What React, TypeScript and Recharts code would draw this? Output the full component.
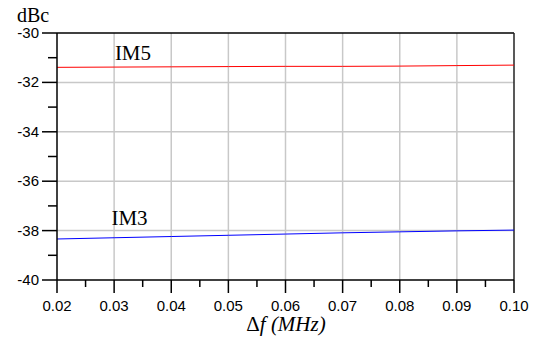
import React from 'react';
import {
  LineChart,
  Line,
  XAxis,
  YAxis,
  ReferenceLine,
  ReferenceDot
} from 'recharts';

const freqs = [0.02, 0.03, 0.04, 0.05, 0.06, 0.07, 0.08, 0.09, 0.1];
const im5 = [-31.39, -31.38, -31.37, -31.36, -31.35, -31.35, -31.34, -31.32, -31.3];
const im3 = [-38.34, -38.29, -38.24, -38.19, -38.14, -38.09, -38.05, -38.01, -37.98];

const xMajor = [0.02, 0.03, 0.04, 0.05, 0.06, 0.07, 0.08, 0.09, 0.1];
const xMinor = [0.025, 0.035, 0.045, 0.055, 0.065, 0.075, 0.085, 0.095];
const yMajor = [-40, -38, -36, -34, -32, -30];
const yMinor = [-39, -37, -35, -33, -31];

const xGrid = [0.03, 0.04, 0.05, 0.06, 0.07, 0.08, 0.09];
const yGrid = [-38, -36, -34, -32];

const chartData = freqs.map((f, i) => ({ f, im5: im5[i], im3: im3[i] }));

const serif = '"Liberation Serif", "Times New Roman", serif';
const sans = '"Liberation Sans", Arial, sans-serif';

const XTick = ({ x, y, payload }: any) => {
  const major = xMajor.includes(payload.value);
  return (
    <g>
      <line x1={x} y1={y} x2={x} y2={y + (major ? 13 : 7)} stroke="#000" strokeWidth={1.5} />
      {major && (
        <text x={x} y={y + 31} textAnchor="middle" fontFamily={sans} fontSize={15} fill="#000">
          {payload.value.toFixed(2)}
        </text>
      )}
    </g>
  );
};

const YTick = ({ x, y, payload }: any) => {
  const major = yMajor.includes(payload.value);
  return (
    <g>
      <line x1={x - (major ? 15 : 9)} y1={y} x2={x} y2={y} stroke="#000" strokeWidth={1.5} />
      {major && (
        <text x={x - 18} y={y + 5} textAnchor="end" fontFamily={sans} fontSize={15} fill="#000">
          {payload.value}
        </text>
      )}
    </g>
  );
};

const IMLabel = (text: string) => ({ viewBox }: any) => (
  <text
    x={viewBox.x + viewBox.width / 2}
    y={viewBox.y + viewBox.height / 2 + 7}
    textAnchor="middle"
    fontFamily={serif}
    fontSize={21}
    fill="#000"
  >
    {text}
  </text>
);

export default function App() {
  return (
    <div style={{ position: 'absolute', left: 0, top: 0, width: 537, height: 337, background: '#fff' }}>
      <LineChart
        width={537}
        height={337}
        data={chartData}
        margin={{ top: 33, right: 23, bottom: 0, left: 0 }}
      >
        {xGrid.map(v => (
          <ReferenceLine key={'x' + v} x={v} stroke="#c8c8c8" strokeWidth={1.5} />
        ))}
        {yGrid.map(v => (
          <ReferenceLine key={'y' + v} y={v} stroke="#c8c8c8" strokeWidth={1.5} />
        ))}
        <ReferenceLine y={-30} stroke="#000" strokeWidth={1.5} />
        <ReferenceLine x={0.1} stroke="#222" strokeWidth={1.5} />
        <XAxis
          dataKey="f"
          type="number"
          domain={[0.02, 0.1]}
          ticks={[...xMajor, ...xMinor].sort((a, b) => a - b)}
          interval={0}
          tickSize={0}
          tickMargin={0}
          tick={<XTick />}
          tickLine={false}
          axisLine={{ stroke: '#000', strokeWidth: 1.5 }}
          height={57}
          allowDataOverflow
        />
        <YAxis
          type="number"
          domain={[-40, -30]}
          ticks={[...yMajor, ...yMinor].sort((a, b) => a - b)}
          interval={0}
          tickSize={0}
          tickMargin={0}
          tick={<YTick />}
          tickLine={false}
          axisLine={{ stroke: '#000', strokeWidth: 1.5 }}
          width={57}
          allowDataOverflow
        />
        <Line
          type="linear"
          dataKey="im5"
          stroke="#ff0000"
          strokeWidth={1}
          dot={false}
          isAnimationActive={false}
        />
        <Line
          type="linear"
          dataKey="im3"
          stroke="#0000ff"
          strokeWidth={1}
          dot={false}
          isAnimationActive={false}
        />
        <ReferenceDot x={0.0333} y={-30.79} r={0} fill="none" stroke="none" label={IMLabel('IM5')} />
        <ReferenceDot x={0.0327} y={-37.51} r={0} fill="none" stroke="none" label={IMLabel('IM3')} />
        <text x={17} y={22} fontFamily={serif} fontSize={20} fill="#000">dBc</text>
        <text x={286} y={331} textAnchor="middle" fontFamily={serif} fontSize={21} fill="#000">
          Δ<tspan fontStyle="italic">f (MHz)</tspan>
        </text>
      </LineChart>
    </div>
  );
}
